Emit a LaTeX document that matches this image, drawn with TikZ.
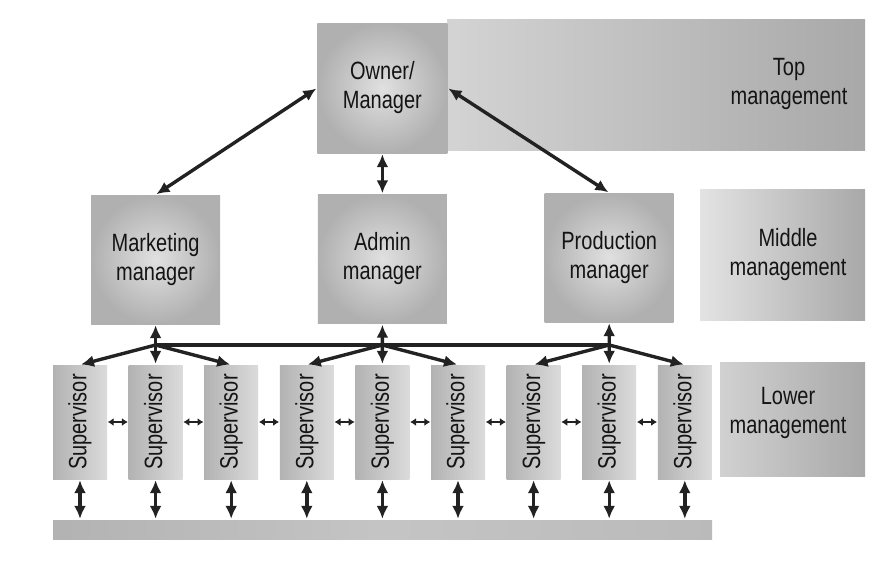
\documentclass[tikz,border=0pt]{standalone}
\usepackage{graphicx}
\usepackage{fontspec}
\setmainfont{Liberation Sans}[FakeStretch=0.8]
\usetikzlibrary{arrows.meta}
\definecolor{ink}{HTML}{222222}
\definecolor{txt}{HTML}{141414}
\newcommand{\lblfont}{\fontsize{25}{29}\selectfont}
\tikzset{
  bigtip/.tip={Latex[length=13pt,width=12pt]},
  smalltip/.tip={Latex[length=6pt,width=8pt]},
  mgr/.style={minimum width=129pt, minimum height=129pt, inner sep=0pt,
    inner color=gray!24, outer color=gray!62, align=center, font=\lblfont, text=txt},
  sup/.style={minimum width=54pt, minimum height=114pt, inner sep=0pt,
    left color=gray!60, right color=gray!28, font=\lblfont, text=txt},
  band/.style={inner sep=0pt},
  lbl/.style={align=center, font=\lblfont, text=txt, inner sep=0pt},
  darr/.style={draw=ink, line width=3.4pt, bigtip-bigtip, shorten <=1pt, shorten >=1pt},
  sarr/.style={draw=ink, line width=3.4pt, -bigtip, shorten >=1pt},
  harr/.style={draw=ink, line width=2.4pt, smalltip-smalltip, shorten <=0.5pt, shorten >=0.5pt},
  hline/.style={draw=ink, line width=3.4pt},
}
\begin{document}
\begin{tikzpicture}[x=1pt,y=-1pt]
\useasboundingbox (0,0) rectangle (877,562);
% background bands
\shade[left color=gray!34, right color=gray!68] (447,19) rectangle (865,150);
\shade[left color=gray!22, right color=gray!68] (700,189) rectangle (865,320);
\shade[left color=gray!36, right color=gray!68] (720,362) rectangle (865,476);
\node[lbl] (toptxt) at (789,84) {Top\\management};
\node[lbl] (midtxt) at (788,255) {Middle\\management};
\node[lbl] (lowtxt) at (788,413) {Lower\\management};
% managers
\node[mgr, minimum width=130pt, minimum height=130pt] (own) at (382.4,88) {Owner/\\Manager};
\node[mgr] (mkt) at (155.6,259.5) {Marketing\\manager};
\node[mgr] (adm) at (382.4,259) {Admin\\manager};
\node[mgr] (prod) at (609.2,257.5) {Production\\manager};
% supervisors
\foreach \i in {0,...,8}
  \node[sup] (s\i) at ({80+75.6*\i},422) {\rotatebox{90}{Supervisor}};
% bottom bar
\node[band, minimum width=659pt, minimum height=19pt, left color=gray!60, right color=gray!54, middle color=gray!46] (bar) at (382.5,529.5) {};
% top connections
\draw[darr] (own.west) -- (mkt.north);
\draw[darr] (own.east) -- (prod.north);
\draw[darr] (own.south) -- (adm.north);
% branch points
\coordinate (bm) at (155.6,345);
\coordinate (ba) at (382.4,345);
\coordinate (bp) at (609.2,345);
\draw[hline] (bm) -- (bp);
\draw[darr] (mkt.south) -- (s1.north);
\draw[darr] (adm.south) -- (s4.north);
\draw[darr] (prod.south) -- (s7.north);
\draw[sarr] (bm) -- (s0.north);
\draw[sarr] (bm) -- (s2.north);
\draw[sarr] (ba) -- (s3.north);
\draw[sarr] (ba) -- (s5.north);
\draw[sarr] (bp) -- (s6.north);
\draw[sarr] (bp) -- (s8.north);
% supervisor links
\foreach \i in {0,...,8}
  \draw[darr] (s\i.south) -- (s\i.south |- bar.north);
\foreach \i [evaluate=\i as \j using {int(\i+1)}] in {0,...,7}
  \draw[harr] (s\i.east) -- (s\j.west);
\end{tikzpicture}
\end{document}
